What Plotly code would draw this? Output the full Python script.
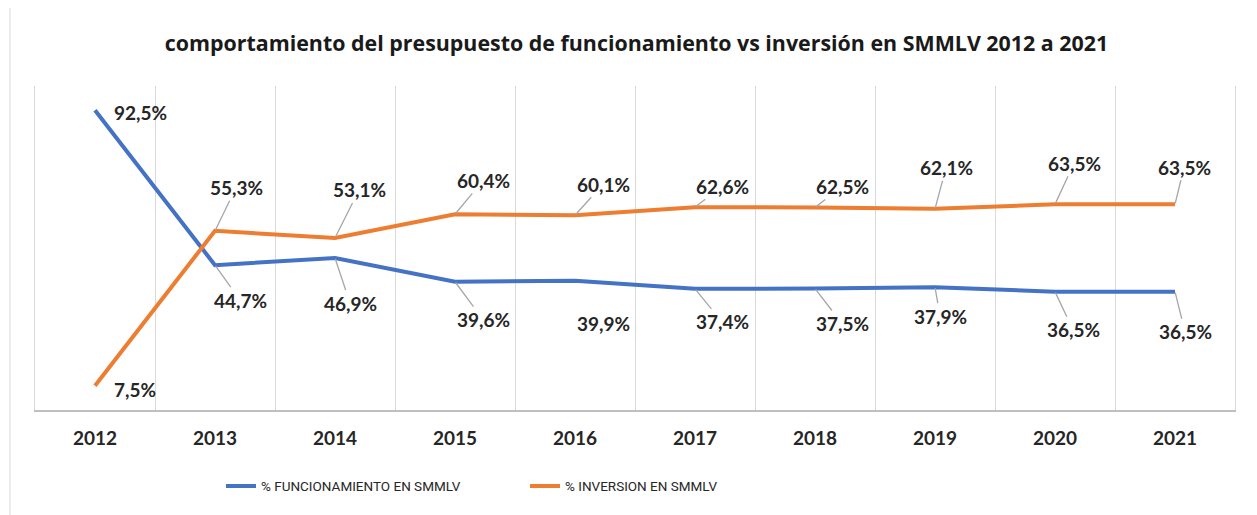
import plotly.graph_objects as go

years = ["2012", "2013", "2014", "2015", "2016", "2017", "2018", "2019", "2020", "2021"]
funcionamiento = [92.5, 44.7, 46.9, 39.6, 39.9, 37.4, 37.5, 37.9, 36.5, 36.5]
inversion = [7.5, 55.3, 53.1, 60.4, 60.1, 62.6, 62.5, 62.1, 63.5, 63.5]

# label offsets (pixels) relative to each point
func_off = [(45, 2), (25, 35), (15, 45), (28, 38), (28, 43), (27, 33), (27, 35), (5, 29), (18, 38), (10, 40)]
inv_off = [(40, 4), (21, -43), (24, -48), (28, -34), (28, -31), (27, -21), (27, -21), (11, -41), (19, -41), (9, -37)]

BLUE = "#4472C4"
ORANGE = "#ED7D31"
x = list(range(len(years)))

fig = go.Figure()
fig.add_trace(go.Scatter(x=x, y=funcionamiento, mode="lines", name="% FUNCIONAMIENTO EN SMMLV",
                         line=dict(color=BLUE, width=4)))
fig.add_trace(go.Scatter(x=x, y=inversion, mode="lines", name="% INVERSION EN SMMLV",
                         line=dict(color=ORANGE, width=4)))

def fmt(v):
    return f"{v:.1f}".replace(".", ",") + "%"

annotations = []
for series, offs in ((funcionamiento, func_off), (inversion, inv_off)):
    for i, v in enumerate(series):
        ax, ay = offs[i]
        ann = dict(
            x=i, y=v, xref="x", yref="y", text="<b>" + fmt(v) + "</b>",
            font=dict(family="Lato", size=19, color="#262626"),
        )
        if i == 0:
            ann.update(showarrow=False, xshift=ax, yshift=-ay)
        else:
            ann.update(showarrow=True, ax=ax, ay=ay, arrowhead=0, arrowwidth=1.3,
                       arrowcolor="#a6a6a6", standoff=1, startstandoff=0)
        annotations.append(ann)
fig.update_layout(annotations=annotations)

fig.update_layout(
    width=1257, height=515,
    margin=dict(l=27, r=30, t=78, b=113),
    paper_bgcolor="white", plot_bgcolor="white",
    title=dict(text="<b>comportamiento del presupuesto de funcionamiento vs inversión en SMMLV 2012 a 2021</b>",
               x=0.5, xanchor="center", y=0.932, yanchor="middle",
               font=dict(family="Open Sans", size=21.4, color="#1a1a1a")),
    showlegend=True,
    legend=dict(orientation="h", x=0.155, xanchor="left", y=-0.235, yanchor="middle",
                entrywidth=259, entrywidthmode="pixels",
                font=dict(family="Roboto", size=13.5, color="#262626")),
    xaxis=dict(range=[-0.5, 9.5], tickmode="array", tickvals=x,
               ticktext=["<b>" + y + "</b>" for y in years],
               showgrid=False, zeroline=False, showline=True, linecolor="#bfbfbf", linewidth=1.5,
               ticks="", ticklabelstandoff=10,
               tickfont=dict(family="Lato", size=19, color="#262626"),
               minor=dict(tick0=-0.5, dtick=1, showgrid=True, gridcolor="#d9d9d9", gridwidth=1, ticks="")),
    yaxis=dict(range=[0, 100], showgrid=False, zeroline=False, showticklabels=False,
               showline=True, mirror=True, linecolor="#d9d9d9", linewidth=1),
)

fig.add_shape(type="rect", xref="paper", yref="paper",
              x0=-0.0208, x1=1.05, y0=-0.5, y1=1.247,
              line=dict(color="#d9d9d9", width=1), fillcolor="rgba(0,0,0,0)", layer="below")

fig.write_html("out.html")
